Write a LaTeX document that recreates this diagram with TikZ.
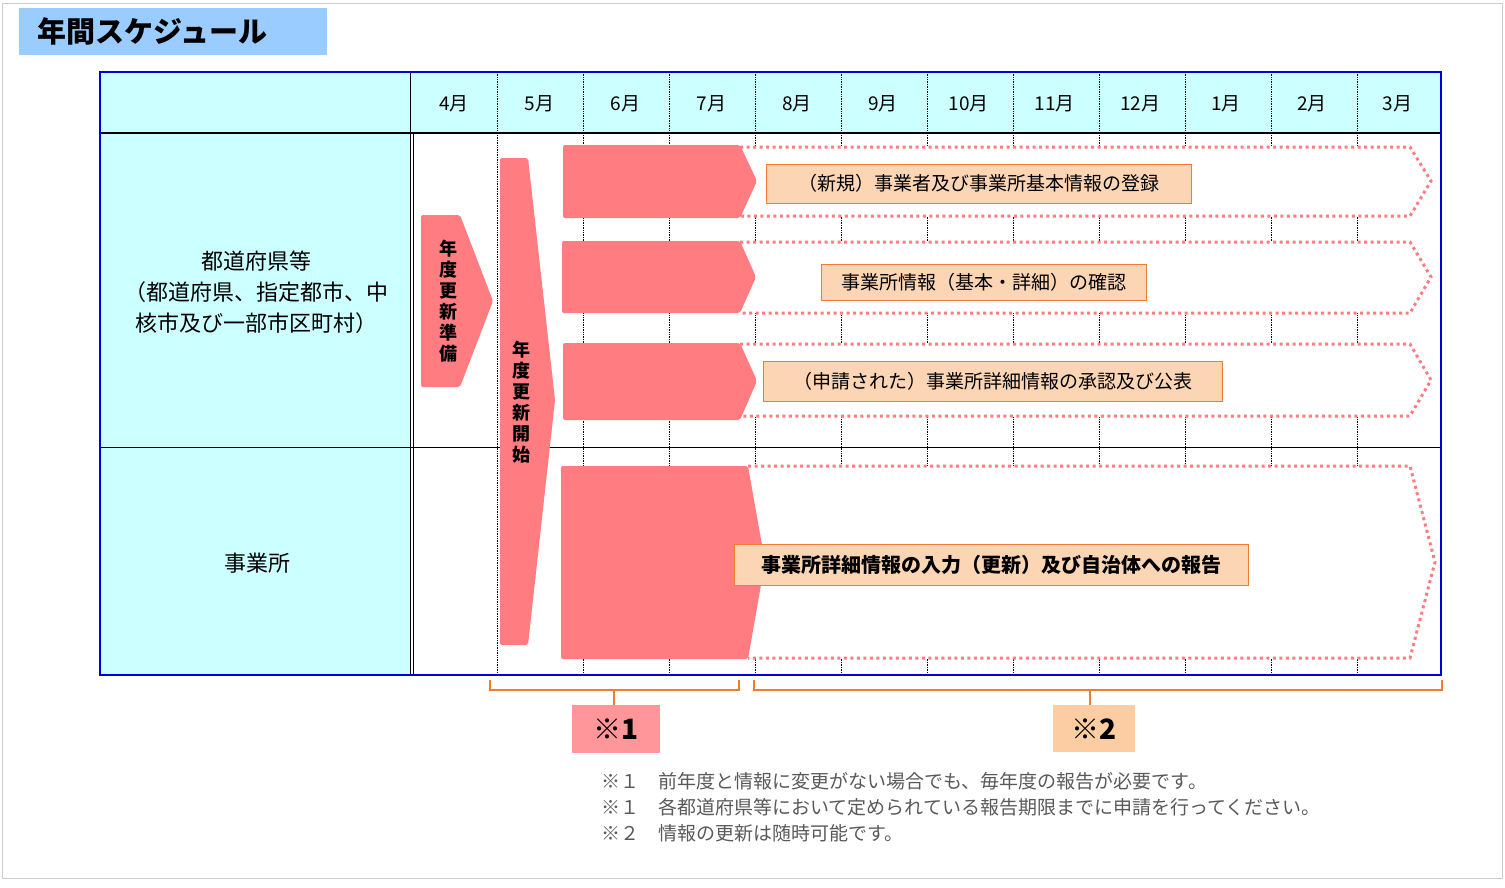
\documentclass[tikz,border=0pt]{standalone}
\usepackage{fontspec}
\setmainfont{Noto Sans CJK JP}
\begin{document}
\begin{tikzpicture}[x=1pt,y=-1pt,
  solidarr/.style={fill=pinkA,draw=none,rounded corners=2pt},
  dotarr/.style={draw=pinkA,line width=3pt,dash pattern=on 3pt off 3.5pt,fill=white},
  lbl/.style={draw=orangeB,fill=peach,line width=1pt,inner sep=0pt,font=\fontsize{19}{22}\selectfont},
  grid/.style={densely dotted,line width=0.7pt},
  brace/.style={draw=orangeB,line width=2pt}]
\definecolor{pinkA}{RGB}{255,124,128}
\definecolor{orangeB}{RGB}{237,125,49}
\definecolor{peach}{RGB}{252,213,180}
\definecolor{cyanL}{RGB}{204,255,255}
\definecolor{titleB}{RGB}{155,204,255}
\definecolor{frameB}{RGB}{0,0,220}
\useasboundingbox (0,0) rectangle (1505,887);
\draw[gray!40,line width=1pt] (2,3) rectangle (1502,878);
% title
\fill[titleB] (19,8) rectangle (327,55);
\node[anchor=west,font=\fontsize{29}{32}\selectfont\bfseries] (title) at (34,31) {年間スケジュール};
% table fills
\fill[cyanL] (100,72) rectangle (1441,133);
\fill[cyanL] (100,133) rectangle (411,675);
\fill[white] (411,133) rectangle (1441,675);
% grid
\foreach \x in {497,583,669,755,841,927,1013,1099,1185,1271,1357}{
  \draw[grid] (\x,72) -- (\x,675);}
\draw[line width=0.8pt] (100,447) -- (1441,447);
\draw[line width=2.5pt] (100,133) -- (1441,133);
\draw[line width=1pt] (410,72) -- (410,675);
\draw[line width=1pt] (413.5,133) -- (413.5,675);
% months
\foreach \m [count=\i] in {4月,5月,6月,7月,8月,9月,10月,11月,12月,1月,2月,3月}{
  \node[font=\fontsize{19}{22}\selectfont] (m\i) at ({411+85.8*(\i-0.5)},104) {\m};}
% row labels
\node[align=center,font=\fontsize{22}{31}\selectfont] (pref) at (256,292) {都道府県等\\（都道府県、指定都市、中\\核市及び一部市区町村）};
\node[font=\fontsize{22}{26}\selectfont] (office) at (257,563) {事業所};
% dotted arrows
\draw[dotarr] (740,147) -- (1410,147) -- (1431,181) -- (1410,216) -- (740,216);
\draw[dotarr] (740,242) -- (1410,242) -- (1431,277) -- (1410,313) -- (740,313);
\draw[dotarr] (740,344) -- (1410,344) -- (1431,380) -- (1410,416) -- (740,416);
\draw[dotarr] (748,466) -- (1410,466) -- (1435,562) -- (1410,658) -- (748,658);
% solid arrows
\fill[solidarr] (421,215) -- (460,215) -- (493,301) -- (460,387) -- (421,387) -- cycle;
\fill[solidarr] (500,158) -- (528,158) -- (555,400) -- (528,645) -- (500,645) -- cycle;
\fill[solidarr] (563,145) -- (740,145) -- (757,181) -- (740,218) -- (563,218) -- cycle;
\fill[solidarr] (562,241) -- (740,241) -- (756,277) -- (740,313) -- (562,313) -- cycle;
\fill[solidarr] (563,343) -- (740,343) -- (757,381) -- (740,420) -- (563,420) -- cycle;
\fill[solidarr] (561,466) -- (748,466) -- (765,562) -- (748,659) -- (561,659) -- cycle;
\node[align=center,font=\fontsize{18}{21}\selectfont\bfseries] (prep) at (448,301) {年\\度\\更\\新\\準\\備};
\node[align=center,font=\fontsize{18}{21}\selectfont\bfseries] (start) at (521,402) {年\\度\\更\\新\\開\\始};
% labels
\node[lbl,minimum width=425pt,minimum height=39pt] (l1) at (978.5,183.5) {（新規）事業者及び事業所基本情報の登録};
\node[lbl,minimum width=325pt,minimum height=36pt] (l2) at (983.5,282) {事業所情報（基本・詳細）の確認};
\node[lbl,minimum width=459pt,minimum height=40pt] (l3) at (992.5,381) {（申請された）事業所詳細情報の承認及び公表};
\node[lbl,minimum width=514pt,minimum height=41pt,font=\fontsize{20}{22}\selectfont\bfseries] (l4) at (991,564.5) {事業所詳細情報の入力（更新）及び自治体への報告};
% outer frame
\draw[frameB,line width=2.5pt] (100,72) rectangle (1441,675);
% braces
\draw[brace] (490,680) -- (490,690) -- (739,690) -- (739,680);
\draw[brace] (614,690) -- (614,705);
\draw[brace] (754,680) -- (754,690) -- (1442,690) -- (1442,680);
\draw[brace] (1090,690) -- (1090,705);
\fill[pinkA!80] (572,705) rectangle (660,753);
\node[font=\fontsize{28}{30}\selectfont\bfseries] (n1) at (616,729) {※1};
\fill[peach!90!orange] (1053,705) rectangle (1135,752);
\node[font=\fontsize{28}{30}\selectfont\bfseries] (n2) at (1094,729) {※2};
% notes
\begin{scope}[every node/.style={anchor=west,text=black!65,font=\fontsize{19}{22}\selectfont}]
\node (t1) at (598,781) {※１\quad 前年度と情報に変更がない場合でも、毎年度の報告が必要です。};
\node (t2) at (598,807) {※１\quad 各都道府県等において定められている報告期限までに申請を行ってください。};
\node (t3) at (598,833) {※２\quad 情報の更新は随時可能です。};
\end{scope}
\end{tikzpicture}
\end{document}
